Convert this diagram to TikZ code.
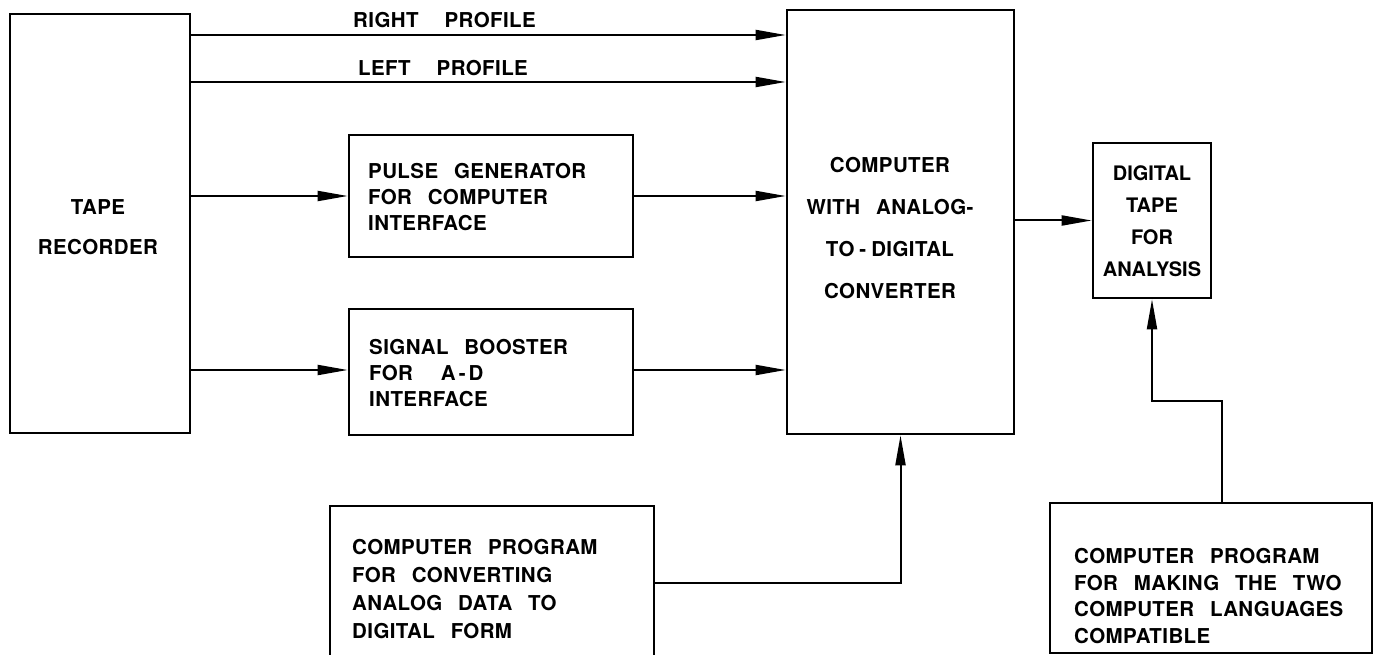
\documentclass[tikz,border=0pt]{standalone}
\usepackage{fontspec}
\setmainfont{TeX Gyre Heros}[WordSpace=2.6, LetterSpace=2]
\usetikzlibrary{arrows.meta}
\begin{document}
\begin{tikzpicture}[x=1pt,y=-1pt,
  box/.style={draw, line width=2.6pt, rectangle, inner sep=0pt},
  arr/.style={line width=2pt, -{Triangle[length=30pt,width=10pt]}},
  lbl/.style={inner sep=0pt, align=left, font={\bfseries\fontsize{20.5}{26}\selectfont}}]
\useasboundingbox (0,0) rectangle (1379,655);
\clip (0,0) rectangle (1379,655);
% boxes
\node[box, minimum width=180pt, minimum height=419pt] (tape) at (100,223.5) {};
\node[box, minimum width=227pt, minimum height=424pt] (comp) at (900.5,222) {};
\node[box, minimum width=284pt, minimum height=122pt] (pulse) at (491,196) {};
\node[box, minimum width=284pt, minimum height=126pt] (sig) at (491,372) {};
\node[box, minimum width=118pt, minimum height=155pt] (dtape) at (1152,220.5) {};
\node[box, minimum width=324pt, minimum height=154pt] (prog1) at (492,583) {};
\node[box, minimum width=322pt, minimum height=150pt] (prog2) at (1211,578) {};
% texts
\node[lbl, align=center, font={\bfseries\fontsize{20.5}{40}\selectfont}] (tapetxt) at (98,227) {TAPE\\RECORDER};
\node[lbl, align=center, font={\bfseries\fontsize{20.5}{42}\selectfont}] (comptxt) at (890,228) {COMPUTER\\WITH ANALOG-\\TO\kern5pt-\kern5pt DIGITAL\\CONVERTER};
\node[lbl, anchor=west] (pulsetxt) at (368,197) {PULSE GENERATOR\\FOR COMPUTER\\INTERFACE};
\node[lbl, anchor=west] (sigtxt) at (369,373) {SIGNAL BOOSTER\\FOR\hspace{28pt}A\kern3pt-\kern3pt D\\INTERFACE};
\node[lbl, align=center, font={\addfontfeature{LetterSpace=0}\bfseries\fontsize{20}{32}\selectfont}] (dtapetxt) at (1152,221) {DIGITAL\\TAPE\\FOR\\ANALYSIS};
\node[lbl, anchor=west, font={\bfseries\fontsize{20.5}{28}\selectfont}] (prog1txt) at (352,589.5) {COMPUTER PROGRAM\\FOR CONVERTING\\ANALOG DATA TO\\DIGITAL FORM};
\node[lbl, anchor=west, font={\bfseries\fontsize{20.5}{26.5}\selectfont}] (prog2txt) at (1074,596) {COMPUTER PROGRAM\\FOR MAKING THE TWO\\COMPUTER LANGUAGES\\COMPATIBLE};
\node[lbl, anchor=west] (rlab) at (353,20) {RIGHT\hspace{26pt}PROFILE};
\node[lbl, anchor=west] (llab) at (358,68) {LEFT\hspace{26pt}PROFILE};
% connectors
\draw[arr] (tape.east |- 0,35) -- (comp.west |- 0,35);
\draw[arr] (tape.east |- 0,82) -- (comp.west |- 0,82);
\draw[arr] (tape.east |- pulse.west) -- (pulse.west);
\draw[arr] (pulse.east) -- (comp.west |- pulse.east);
\draw[arr] (tape.east |- 0,370) -- (sig.west |- 0,370);
\draw[arr] (sig.east |- 0,370) -- (comp.west |- 0,370);
\draw[arr] (comp.east |- dtape.west) -- (dtape.west);
\draw[arr] (prog1.east) -| (comp.south);
\coordinate (bend) at (1222,401);
\draw[arr] (prog2.north -| bend) -- (bend) -| (dtape.south);
\end{tikzpicture}
\end{document}
